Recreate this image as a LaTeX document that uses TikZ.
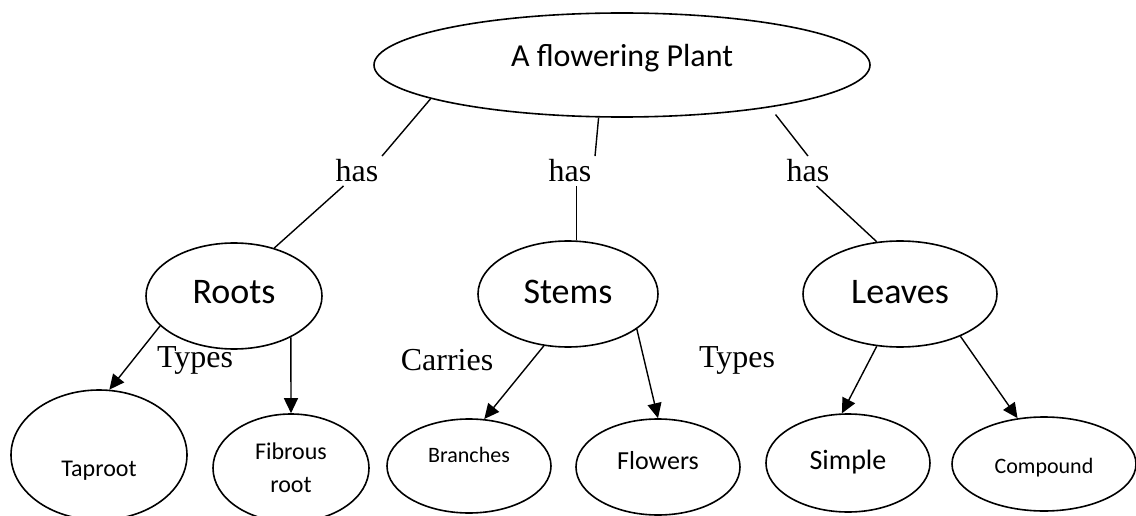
\documentclass[tikz,border=0pt]{standalone}
\usepackage{fontspec}
\setmainfont{Liberation Serif}
\newfontfamily\calibri{Carlito}
\usetikzlibrary{shapes.geometric,arrows.meta}
\newcommand{\bubblefont}[1]{\calibri\fontsize{#1}{#1}\selectfont}

\begin{document}
\begin{tikzpicture}[x=1pt,y=-1pt,line width=1.4pt,tag/.style={font=\fontsize{32}{36}\selectfont,inner xsep=3pt,inner ysep=3pt},link/.style={-{Triangle[length=15pt,width=14pt]}}]
          \useasboundingbox (0,0) rectangle (1136,516);
          \begin{scope}[every node/.style={ellipse,draw,inner sep=0pt,line width=1.6pt}]
            \node[minimum width=496pt,minimum height=104pt,font={\bubblefont{32}},text height=22pt,text depth=18pt] (plant) at (622,65) {A flowering Plant};
            \node[minimum width=176pt,minimum height=106pt,font={\bubblefont{36}},text height=23pt,text depth=9pt] (roots) at (234,296) {Roots};
            \node[minimum width=180pt,minimum height=106pt,font={\bubblefont{36}},text height=24pt,text depth=6pt] (stems) at (568,294) {Stems};
            \node[minimum width=194pt,minimum height=106pt,font={\bubblefont{36}},text height=24pt,text depth=6pt] (leaves) at (900,294) {Leaves};
            \node[minimum width=176pt,minimum height=130pt,font={\bubblefont{24}},text height=44pt,text depth=2pt] (taproot) at (99,455) {Taproot};
            \node[minimum width=156pt,minimum height=108pt,font={\calibri\fontsize{24}{33}\selectfont},align=center] (fibrous) at (291,468) {Fibrous\\root};
            \node[minimum width=164pt,minimum height=94pt,font={\bubblefont{22}},text height=15pt,text depth=23pt] (branches) at (469,466) {Branches};
            \node[minimum width=164pt,minimum height=96pt,font={\bubblefont{26}},text height=17pt,text depth=13pt] (flowers) at (658,467) {Flowers};
            \node[minimum width=164pt,minimum height=98pt,font={\bubblefont{28}},text height=19pt,text depth=7pt] (simple) at (848,463) {Simple};
            \node[minimum width=184pt,minimum height=94pt,font={\bubblefont{22}},text height=20pt,text depth=2pt] (compound) at (1044,464) {Compound};
          \end{scope}
          \node[tag] (has1) at (357,171) {has};
          \node[tag] (has2) at (570,171) {has};
          \node[tag] (has3) at (808,171) {has};
          \node[tag] (types1) at (195,360) {Types};
          \node[tag] (carries) at (447,360) {Carries};
          \node[tag] (types2) at (737,360) {Types};
          \draw (plant.190) -- (has1.north east);
          \draw (has1.228) -- (roots.50);
          \draw (plant.246) -- (has2.north east);
          \draw (stems.81) -- (stems.81 |- has2.south);
          \draw[shorten <=9pt] (plant.344.5) -- (has3.north);
          \draw (has3.300) -- (leaves.114);
          \draw[link] (roots.202) -- (taproot.81);
          \draw[link] (roots.324) -- (fibrous.north);
          \draw[link] (stems.245) -- (branches.72);
          \draw[link] (stems.333) -- (flowers.north);
          \draw[link] (leaves.246) -- (simple.97);
          \draw[link] (leaves.325) -- (compound.120);
        \end{tikzpicture}
\end{document}
